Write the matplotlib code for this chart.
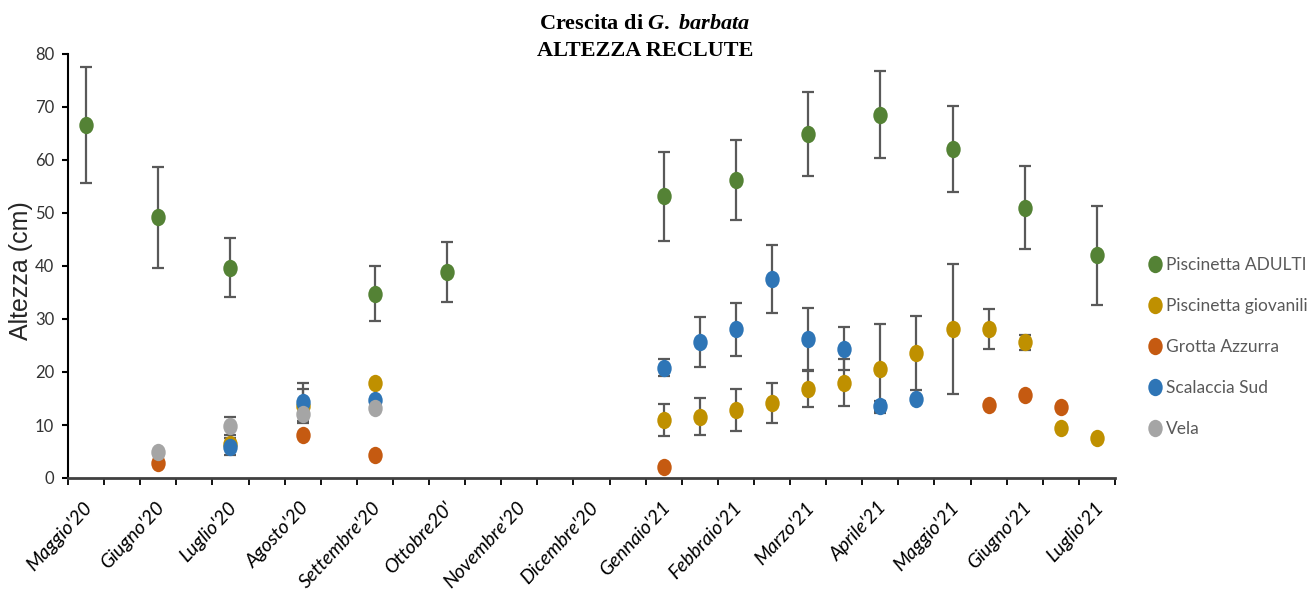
import matplotlib
matplotlib.use("Agg")
import matplotlib.pyplot as plt
from matplotlib.path import Path
from matplotlib.transforms import Affine2D, ScaledTranslation
import numpy as np

nan = np.nan

# 29 slots: one per month plus a mid-month slot between each pair
slots = ["Maggio'20", "", "Giugno'20", "", "Luglio'20", "", "Agosto'20", "",
         "Settembre'20", "", "Ottobre20'", "", "Novembre'20", "", "Dicembre'20", "",
         "Gennaio'21", "", "Febbraio'21", "", "Marzo'21", "", "Aprile'21", "",
         "Maggio'21", "", "Giugno'21", "", "Luglio'21"]

adulti = [66.6, nan, 49.2, nan, 39.7, nan, nan, nan, 34.8, nan, 38.9, nan, nan, nan, nan, nan,
          53.2, nan, 56.2, nan, 64.9, nan, 68.5, nan, 62.1, nan, 51.0, nan, 42.0]
adulti_sd = [10.9, nan, 9.5, nan, 5.6, nan, nan, nan, 5.2, nan, 5.7, nan, nan, nan, nan, nan,
             8.4, nan, 7.5, nan, 8.0, nan, 8.2, nan, 8.1, nan, 7.8, nan, 9.3]

giovanili = [nan, nan, nan, nan, 6.5, nan, 13.5, nan, 17.9, nan, nan, nan, nan, nan, nan, nan,
             10.9, 11.6, 12.8, 14.2, 16.8, 18.0, 20.6, 23.6, 28.1, 28.1, 25.6, 9.4, 7.5]
giovanili_sd = [nan, nan, nan, nan, nan, nan, 3.2, nan, nan, nan, nan, nan, nan, nan, nan, nan,
                3.0, 3.5, 4.0, 3.8, 3.4, 4.5, 8.4, 7.0, 12.3, 3.8, 1.4, nan, nan]

grotta = [nan, nan, 2.8, nan, nan, nan, 8.2, nan, 4.3, nan, nan, nan, nan, nan, nan, nan,
          2.1, nan, nan, nan, nan, nan, nan, nan, nan, 13.8, 15.6, 13.4, nan]

scalaccia = [nan, nan, nan, nan, 5.9, nan, 14.4, nan, 14.7, nan, nan, nan, nan, nan, nan, nan,
             20.8, 25.6, 28.1, 37.5, 26.2, 24.4, 13.6, 15.0, nan, nan, nan, nan, nan]
scalaccia_sd = [nan, nan, nan, nan, 1.6, nan, 3.6, nan, nan, nan, nan, nan, nan, nan, nan, nan,
                1.6, 4.7, 5.0, 6.4, 5.9, 4.1, 1.0, nan, nan, nan, nan, nan, nan]

vela = [nan, nan, 5.0, nan, 9.9, nan, 12.1, nan, 13.2, nan, nan, nan, nan, nan, nan, nan,
        nan, nan, nan, nan, nan, nan, nan, nan, nan, nan, nan, nan, nan]
vela_sd = [nan, nan, nan, nan, 1.7, nan, nan, nan, nan, nan, nan, nan, nan, nan, nan, nan,
           nan, nan, nan, nan, nan, nan, nan, nan, nan, nan, nan, nan, nan]

series = [
    ("Piscinetta ADULTI", adulti, adulti_sd, "#548235"),
    ("Piscinetta giovanili", giovanili, giovanili_sd, "#BF9000"),
    ("Grotta Azzurra", grotta, None, "#C55A11"),
    ("Scalaccia Sud", scalaccia, scalaccia_sd, "#2E75B6"),
    ("Vela", vela, vela_sd, "#A5A5A5"),
]

plt.rcParams["mathtext.fontset"] = "custom"
plt.rcParams["mathtext.it"] = "Liberation Serif:italic:bold"
plt.rcParams["mathtext.rm"] = "Liberation Serif:bold"
sans = ["Lato", "DejaVu Sans"]

fig = plt.figure(figsize=(13.09, 5.97), dpi=100)
ax = fig.add_axes([68 / 1309, 1 - 478 / 597, (1115 - 68) / 1309, (478 - 54) / 597])

# slightly tall ellipse, like the original markers
ellipse = Path.unit_circle().transformed(Affine2D().scale(0.83, 1.0))

x = np.arange(len(slots)) + 0.5
for name, vals, sd, col in series:
    if sd is not None:
        ax.errorbar(x, vals, yerr=sd, fmt="none", ecolor="#595959",
                    elinewidth=1.6, capsize=4, capthick=1.6, zorder=2)
for name, vals, sd, col in series:
    ax.plot(x, vals, linestyle="none", marker=ellipse, ms=12.5, color=col,
            markeredgewidth=0, zorder=3, label=name)

ax.set_xlim(0, len(slots))
ax.set_ylim(0, 80)
ax.set_yticks(np.arange(0, 81, 10))
for s in ["top", "right"]:
    ax.spines[s].set_visible(False)
ax.spines["left"].set_color("black")
ax.spines["left"].set_linewidth(1.5)
ax.spines["bottom"].set_color("#404040")
ax.spines["bottom"].set_linewidth(2)

ax.tick_params(axis="y", direction="out", length=4, width=1.5, pad=6,
               labelsize=12, labelcolor="#333333")
for t in ax.get_yticklabels():
    t.set_family(sans)

lab_idx = [i for i, s in enumerate(slots) if s]
ax.set_xticks(x[lab_idx])
ax.set_xticklabels([slots[i] for i in lab_idx], rotation=47, ha="right", va="top",
                   rotation_mode="anchor", fontsize=14, style="italic", family=sans)
ax.set_xticks(np.arange(len(slots) + 1), minor=True)
ax.tick_params(axis="x", which="major", length=0, pad=15, labelcolor="black")
ax.tick_params(axis="x", which="minor", direction="out", length=5, width=1.3)
offset = ScaledTranslation(-3 / 100, 0, fig.dpi_scale_trans)
for t in ax.get_xticklabels():
    t.set_transform(t.get_transform() + offset)

ax.set_ylabel("Altezza (cm)", fontsize=18, family="Liberation Sans", color="#262626")
ax.yaxis.set_label_coords(-0.0334, 0.488)

ax.legend(loc="center left", bbox_to_anchor=(1.032, 0.309), frameon=False,
          handlelength=0.7, handletextpad=0.3, labelspacing=1.45,
          borderaxespad=0, borderpad=0, prop={"family": sans, "size": 12.5},
          labelcolor="#595959")

fig.text(645 / 1309, 1 - 24 / 597, "Crescita di $\\mathit{G.\\ barbata}$", ha="center",
         va="center", family="Liberation Serif", weight="bold", fontsize=16)
fig.text(645 / 1309, 1 - 51 / 597, "ALTEZZA RECLUTE", ha="center", va="center",
         family="Liberation Serif", weight="bold", fontsize=16)

fig.savefig("out.png", dpi=100)
